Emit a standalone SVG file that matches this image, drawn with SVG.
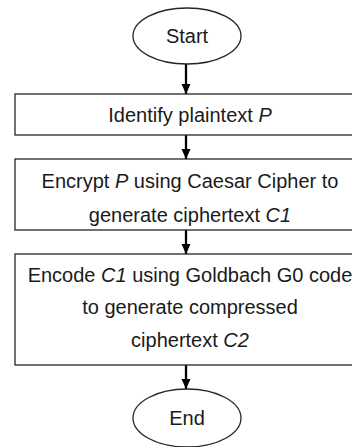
<svg xmlns="http://www.w3.org/2000/svg" width="352" height="447" viewBox="0 0 352 447">
<defs>
<style>
.shape{fill:#fff;stroke:#262626;stroke-width:1.3}
.t{font-family:"Liberation Sans",Arial,sans-serif;font-size:20px;fill:#1a1a1a;text-anchor:middle}
.i{font-style:italic}
.c{stroke:#000;stroke-width:2.3;fill:none}
</style>
<marker id="ah" markerUnits="userSpaceOnUse" markerWidth="10" markerHeight="10" viewBox="0 0 10 10" refX="10" refY="5" orient="auto">
<path d="M0,0.5 L10,5 L0,9.5 Z" fill="#000"/>
</marker>
</defs>
<rect width="352" height="447" fill="#fff"/>
<g id="connectors">
<line class="c" x1="186" y1="64" x2="186" y2="94" marker-end="url(#ah)"/>
<line class="c" x1="186" y1="135" x2="186" y2="159" marker-end="url(#ah)"/>
<line class="c" x1="186" y1="230" x2="186" y2="254" marker-end="url(#ah)"/>
<line class="c" x1="186" y1="365" x2="186" y2="389" marker-end="url(#ah)"/>
</g>
<g id="start">
<ellipse class="shape" cx="187" cy="36" rx="54" ry="28"/>
<text class="t" x="187" y="43">Start</text>
</g>
<g id="identify">
<rect class="shape" x="15" y="94" width="345" height="41"/>
<text class="t" x="190" y="122">Identify plaintext <tspan class="i">P</tspan></text>
</g>
<g id="encrypt">
<rect class="shape" x="15" y="159" width="345" height="71"/>
<text class="t" x="190" y="188">Encrypt <tspan class="i">P</tspan> using Caesar Cipher to</text>
<text class="t" x="190" y="222">generate ciphertext <tspan class="i">C1</tspan></text>
</g>
<g id="encode">
<rect class="shape" x="15" y="254" width="345" height="111"/>
<text class="t" x="190" y="282">Encode <tspan class="i">C1</tspan> using Goldbach G0 code</text>
<text class="t" x="190" y="314">to generate compressed</text>
<text class="t" x="190" y="347">ciphertext <tspan class="i">C2</tspan></text>
</g>
<g id="end">
<ellipse class="shape" cx="187" cy="418" rx="54" ry="29"/>
<text class="t" x="187" y="425">End</text>
</g>
</svg>
